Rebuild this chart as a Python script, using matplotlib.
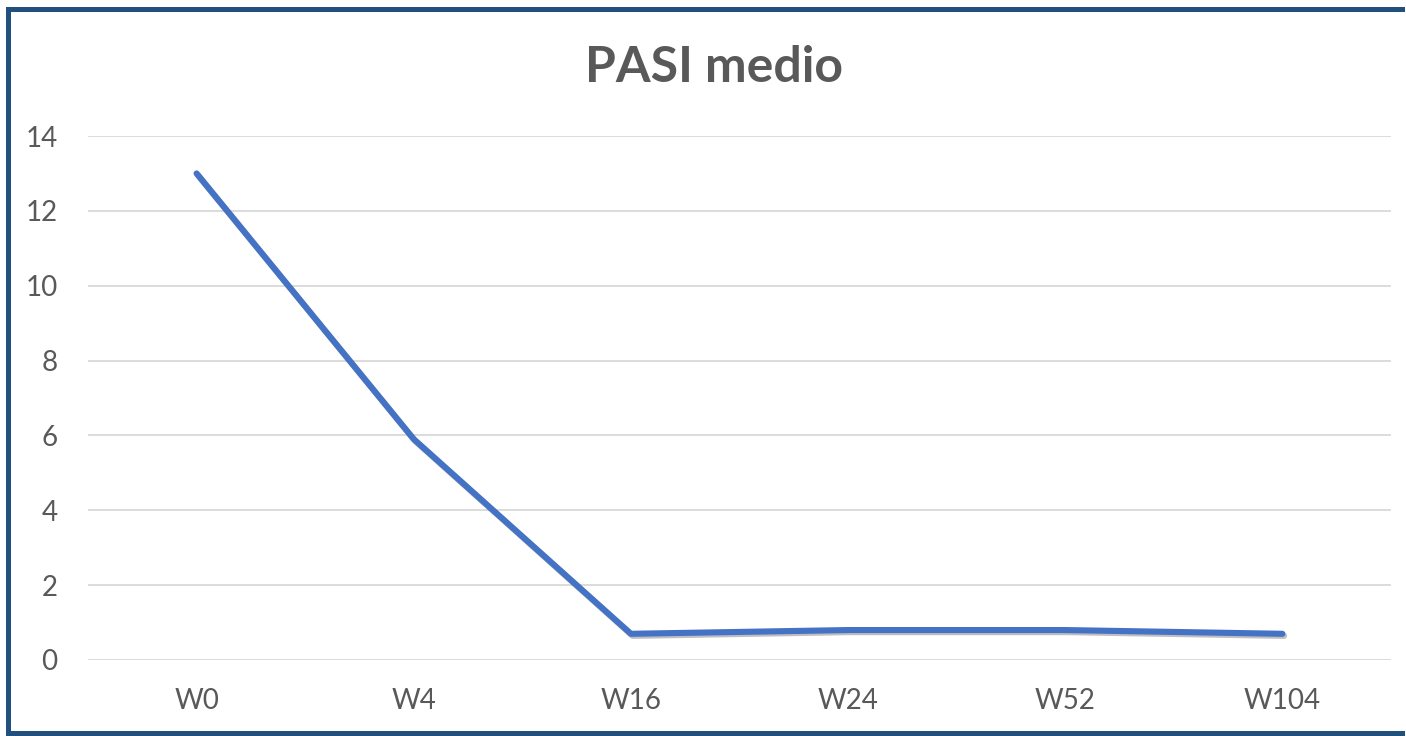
import matplotlib
matplotlib.use("Agg")
import matplotlib.pyplot as plt
import matplotlib.patheffects as pe
from matplotlib.patches import Rectangle

categories = ["W0", "W4", "W16", "W24", "W52", "W104"]
pasi_medio = [13.0, 5.9, 0.7, 0.8, 0.8, 0.7]
y_ticks = [0, 2, 4, 6, 8, 10, 12, 14]
title = "PASI medio"

W, H = 1406, 736
plt.rcParams['font.family'] = ['Lato', 'DejaVu Sans']
fig = plt.figure(figsize=(W / 100, H / 100), dpi=100)
fig.patch.set_facecolor('white')

ax = fig.add_axes([88 / W, 1 - 660 / H, (1391 - 88) / W, (660 - 136) / H])
x = list(range(len(categories)))
ax.plot(x, pasi_medio, color='#4472C4', lw=4.4, solid_capstyle='round', solid_joinstyle='round',
        path_effects=[pe.SimpleLineShadow(offset=(1.2, -1.5), alpha=0.25, shadow_color='black'), pe.Normal()],
        zorder=3)
ax.set_xlim(-0.5, len(categories) - 0.5)
ax.set_ylim(0, 14)
ax.set_yticks(y_ticks)
ax.set_yticklabels([str(v) for v in y_ticks])
ax.set_xticks(x)
ax.set_xticklabels(categories)
ax.grid(axis='y', color='#D9D9D9', lw=1.3)
ax.set_axisbelow(True)
for s in ax.spines.values():
    s.set_visible(False)
ax.tick_params(axis='both', length=0, labelsize=20, labelcolor='#595959')
ax.tick_params(axis='y', pad=22)
ax.tick_params(axis='x', pad=20)

fig.text(714 / W, 1 - 67 / H, title, ha='center', va='center', fontsize=36, fontweight='bold', color='#595959')

bc = '#22507E'

def bar_px(x0, y0, x1, y1):
    # pixel box (top-left origin) -> filled figure rectangle
    fig.patches.append(Rectangle((x0 / W, 1 - y1 / H), (x1 - x0) / W, (y1 - y0) / H,
                                 transform=fig.transFigure, facecolor=bc, edgecolor='none', lw=0, zorder=10))

bar_px(6, 7, W - 1, 12)      # top
bar_px(6, 731, W - 1, 736)   # bottom
bar_px(6, 7, 11, 736)        # left

fig.savefig('out.png', dpi=100, facecolor='white')
